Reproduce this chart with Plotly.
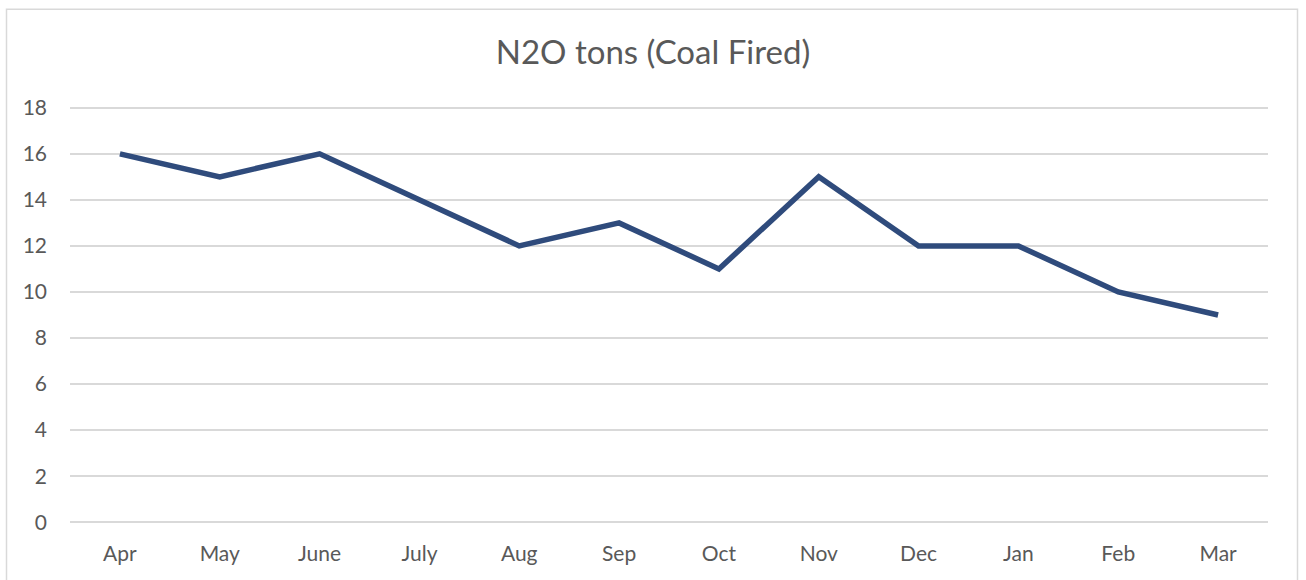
import plotly.graph_objects as go

months = ["Apr", "May", "June", "July", "Aug", "Sep", "Oct", "Nov", "Dec", "Jan", "Feb", "Mar"]
n2o_tons = [16, 15, 16, 14, 12, 13, 11, 15, 12, 12, 10, 9]
y_ticks = [0, 2, 4, 6, 8, 10, 12, 14, 16, 18]

W, H = 1306, 580
pad = 0.12  # small padding so the edge gridlines (0 and 18) are drawn
px_per_unit = 23
L, R = 70, 38
T = 108 - pad * px_per_unit
B = (580 - 522) - pad * px_per_unit
pw, ph = W - L - R, H - T - B

fig = go.Figure()
fig.add_trace(go.Scatter(
    x=months, y=n2o_tons, mode="lines",
    line=dict(color="#2F4B7C", width=5.5),
    hoverinfo="x+y",
))

fig.update_layout(
    width=W, height=H,
    margin=dict(l=L, r=R, t=T, b=B),
    paper_bgcolor="white", plot_bgcolor="white",
    showlegend=False,
    font=dict(family="Lato, Carlito, 'Open Sans', sans-serif", color="#595959"),
    title=dict(text="N2O tons (Coal Fired)", x=0.5, xanchor="center",
               y=1 - 52 / H, yanchor="middle",
               font=dict(size=33, color="#595959")),
    xaxis=dict(type="category", range=[-0.5, len(months) - 0.5],
               showgrid=False, zeroline=False, showline=False,
               ticks="", ticklabelstandoff=14,
               tickfont=dict(size=21, color="#595959")),
    yaxis=dict(range=[-pad, 18 + pad], tickvals=y_ticks, showgrid=True,
               gridcolor="#d9d9d9", gridwidth=1.5,
               zeroline=True, zerolinecolor="#d9d9d9", zerolinewidth=1.5,
               showline=False, ticks="", ticklabelstandoff=22,
               tickfont=dict(size=21, color="#595959")),
    shapes=[dict(type="rect", xref="paper", yref="paper",
                 x0=(6.5 - L) / pw, x1=(1297.5 - L) / pw,
                 y0=-0.3, y1=(H - B - 9.5) / ph,
                 line=dict(color="#d9d9d9", width=1.5), fillcolor="rgba(0,0,0,0)",
                 layer="below")],
)

fig.write_html("out.html", config={"displayModeBar": False},
               post_script="document.body.style.margin='0';")
